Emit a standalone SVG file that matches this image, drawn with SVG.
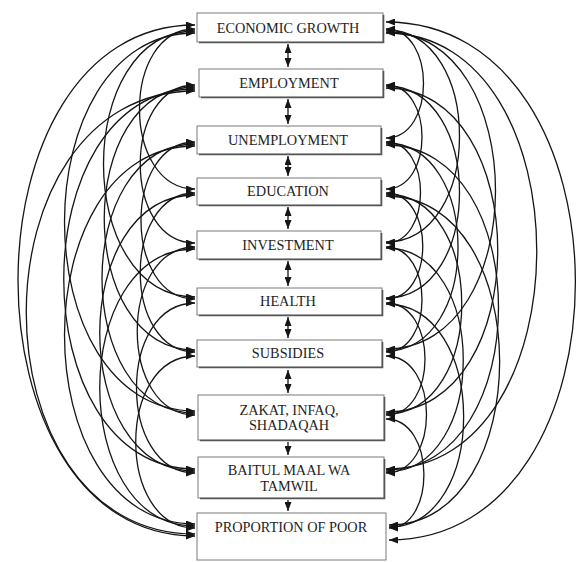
<svg xmlns="http://www.w3.org/2000/svg" width="578" height="562" viewBox="0 0 578 562">
<style>
.bg{fill:#ffffff}
.box{fill:#ffffff;stroke:#7a7a7a;stroke-width:1}
.sh{fill:none;stroke:#555;stroke-width:1.6}
.lbl{font-family:"Liberation Serif","Times New Roman",serif;font-size:14.3px;fill:#1e1e1e;text-anchor:middle}
.arc{fill:none;stroke:#151515;stroke-width:1.3;marker-start:url(#ah);marker-end:url(#ah)}
.v2{fill:none;stroke:#151515;stroke-width:1.3;marker-start:url(#ah);marker-end:url(#ah)}
.v1{fill:none;stroke:#151515;stroke-width:1.3;marker-end:url(#ah)}
</style>
<defs>
<marker id="ah" viewBox="0 0 9 7" refX="9" refY="3.5" markerWidth="9" markerHeight="7" markerUnits="userSpaceOnUse" orient="auto-start-reverse">
<path d="M0,0 L9,3.5 L0,7 z" fill="#151515"/>
</marker>
</defs>
<rect class="bg" x="0" y="0" width="578" height="562"/>
<g id="connectors">
<path class="arc" d="M195,29 C121,29 121,189 195,189"/>
<path class="arc" d="M195,85 C122,85 122,243 195,243"/>
<path class="arc" d="M195,142 C123,142 123,299 195,299"/>
<path class="arc" d="M195,193 C122,193 122,352 195,352"/>
<path class="arc" d="M195,247 C118,247 118,415 195,415"/>
<path class="arc" d="M195,303 C117,303 117,473 195,473"/>
<path class="arc" d="M195,356 C116,356 116,528 195,528"/>
<path class="arc" d="M195,31 C73,31 73,297 195,297"/>
<path class="arc" d="M195,87 C74,87 74,350 195,350"/>
<path class="arc" d="M195,144 C71,144 71,413 195,413"/>
<path class="arc" d="M195,195 C68,195 68,471 195,471"/>
<path class="arc" d="M195,249 C68,249 68,526 195,526"/>
<path class="arc" d="M195,33 C21,33 21,411 195,411"/>
<path class="arc" d="M195,89 C20,89 20,469 195,469"/>
<path class="arc" d="M195,146 C21,146 21,524 195,524"/>
<path class="arc" d="M195,91 C-30,91 -30,534 195,534"/>
<path class="arc" d="M195,25 C-41,25 -41,536 195,536"/>
<path class="arc" d="M386,29 C436,29 436,138 386,138"/>
<path class="arc" d="M386,85 C434,85 434,189 386,189"/>
<path class="arc" d="M386,142 C432,142 432,243 386,243"/>
<path class="arc" d="M386,193 C435,193 435,299 386,299"/>
<path class="arc" d="M386,247 C434,247 434,352 386,352"/>
<path class="arc" d="M386,303 C438,303 438,415 386,415"/>
<path class="arc" d="M386,356 C440,356 440,473 386,473"/>
<path class="arc" d="M386,419 C436,419 436,528 389,528"/>
<path class="arc" d="M386,30 C484,30 484,242 386,242"/>
<path class="arc" d="M386,86 C484,86 484,298 386,298"/>
<path class="arc" d="M386,143 C482,143 482,351 386,351"/>
<path class="arc" d="M386,194 C487,194 487,414 386,414"/>
<path class="arc" d="M386,248 C489,248 489,472 386,472"/>
<path class="arc" d="M386,304 C489,304 489,527 389,527"/>
<path class="arc" d="M386,32 C532,32 532,349 386,349"/>
<path class="arc" d="M386,88 C535,88 535,412 386,412"/>
<path class="arc" d="M386,145 C536,145 536,470 386,470"/>
<path class="arc" d="M386,196 C537,196 537,525 389,525"/>
<path class="arc" d="M386,33 C587,33 587,469 386,469"/>
<path class="arc" d="M386,22 C638,22 638,540 389,540"/>
<path class="v2" d="M288,44 L288,67"/>
<path class="v2" d="M288,99 L288,124"/>
<path class="v2" d="M288,156 L288,176"/>
<path class="v2" d="M288,207 L288,229"/>
<path class="v2" d="M288,261 L288,286"/>
<path class="v2" d="M288,317 L288,338"/>
<path class="v2" d="M288,370 L288,393"/>
<path class="v1" d="M288,442 L288,455"/>
<path class="v1" d="M288,500 L288,511"/>
</g>
<g id="n1">
<rect class="box" x="197" y="13" width="186" height="29"/>
<path class="sh" d="M199,42.5 H383.5 V15"/>
<text class="lbl" x="288" y="33">ECONOMIC GROWTH</text>
</g>
<g id="n2">
<rect class="box" x="199" y="69" width="184" height="28"/>
<path class="sh" d="M201,97.5 H383.5 V71"/>
<text class="lbl" x="289" y="88">EMPLOYMENT</text>
</g>
<g id="n3">
<rect class="box" x="197" y="126" width="184" height="28"/>
<path class="sh" d="M199,154.5 H381.5 V128"/>
<text class="lbl" x="288" y="145">UNEMPLOYMENT</text>
</g>
<g id="n4">
<rect class="box" x="197" y="178" width="184" height="27"/>
<path class="sh" d="M199,205.5 H381.5 V180"/>
<text class="lbl" x="288" y="196">EDUCATION</text>
</g>
<g id="n5">
<rect class="box" x="197" y="231" width="184" height="28"/>
<path class="sh" d="M199,259.5 H381.5 V233"/>
<text class="lbl" x="288" y="250">INVESTMENT</text>
</g>
<g id="n6">
<rect class="box" x="197" y="288" width="185" height="27"/>
<path class="sh" d="M199,315.5 H382.5 V290"/>
<text class="lbl" x="288" y="306">HEALTH</text>
</g>
<g id="n7">
<rect class="box" x="197" y="340" width="185" height="27"/>
<path class="sh" d="M199,367.5 H382.5 V342"/>
<text class="lbl" x="288" y="358">SUBSIDIES</text>
</g>
<g id="n8">
<rect class="box" x="198" y="395" width="186" height="45"/>
<path class="sh" d="M200,440.5 H384.5 V397"/>
<text class="lbl" x="289" y="415">ZAKAT, INFAQ,</text>
<text class="lbl" x="289" y="430">SHADAQAH</text>
</g>
<g id="n9">
<rect class="box" x="198" y="457" width="186" height="41"/>
<path class="sh" d="M200,498.5 H384.5 V459"/>
<text class="lbl" x="289" y="475">BAITUL MAAL WA</text>
<text class="lbl" x="289" y="491">TAMWIL</text>
</g>
<g id="n10">
<rect class="box" x="197" y="513" width="189" height="47"/>
<text class="lbl" x="291" y="532">PROPORTION OF POOR</text>
</g>
</svg>
